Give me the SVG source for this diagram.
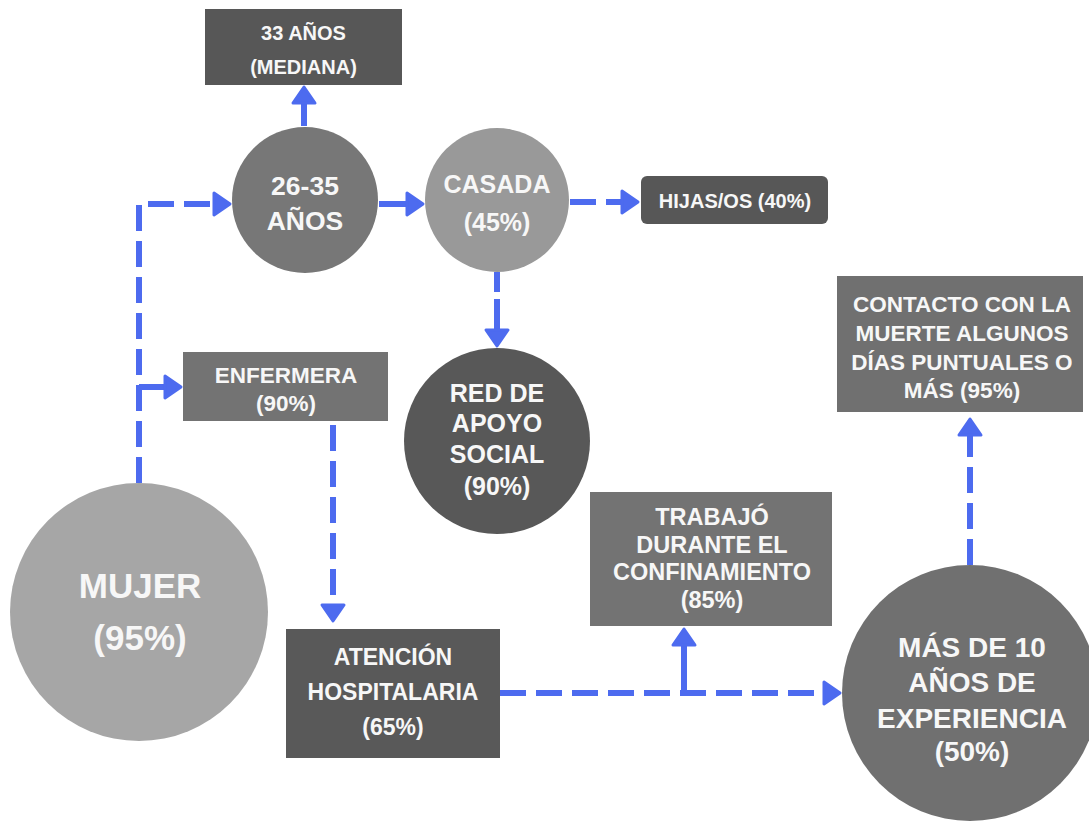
<svg xmlns="http://www.w3.org/2000/svg" width="1089" height="821" viewBox="0 0 1089 821">
<defs>
<style>
.t{font-family:"Liberation Sans",Arial,sans-serif;font-weight:bold;fill:#f7f7f7;text-anchor:middle}
.c{stroke:#4d6bef;stroke-width:6;fill:none}
.d{stroke-dasharray:26 10}
</style>
<marker id="ah" markerUnits="userSpaceOnUse" markerWidth="24" markerHeight="28" viewBox="-3 -3 24 28" refX="2" refY="11" orient="auto">
<path d="M0,0 L16,11 L0,22 z" fill="#4d6bef" stroke="#4d6bef" stroke-width="3" stroke-linejoin="round"/>
</marker>
</defs>
<rect width="1089" height="821" fill="#ffffff"/>
<g id="connectors">
<path class="c d" d="M139,483 V204 H216" marker-end="url(#ah)"/>
<path class="c" d="M139,387 H167" marker-end="url(#ah)"/>
<path class="c d" d="M304,126 V101" stroke-dasharray="16 6" marker-end="url(#ah)"/>
<path class="c" d="M379,204 H409" marker-end="url(#ah)"/>
<path class="c d" d="M570,202 H624" stroke-dasharray="18 9" marker-end="url(#ah)"/>
<path class="c" d="M497,272 V332" stroke-dasharray="20 7 60 0" marker-end="url(#ah)"/>
<path class="c d" d="M333,425 V607" marker-end="url(#ah)"/>
<path class="c d" d="M500,693 H826" stroke-dasharray="24 10" marker-end="url(#ah)"/>
<path class="c" d="M684,693 V643" marker-end="url(#ah)"/>
<path class="c d" d="M970,565 V433" marker-end="url(#ah)"/>
</g>
<g id="n-33anos">
<rect x="205" y="9" width="197" height="76" fill="#575757"/>
<text class="t" x="303.5" y="40" font-size="20">33 AÑOS</text>
<text class="t" x="303.5" y="74" font-size="20">(MEDIANA)</text>
</g>
<g id="n-2635">
<circle cx="305" cy="200" r="73" fill="#777777"/>
<text class="t" x="305" y="195" font-size="26.5">26-35</text>
<text class="t" x="305" y="230" font-size="26.5">AÑOS</text>
</g>
<g id="n-casada">
<circle cx="497" cy="200" r="72" fill="#999999"/>
<text class="t" x="497" y="193" font-size="25">CASADA</text>
<text class="t" x="497" y="231" font-size="25">(45%)</text>
</g>
<g id="n-hijas">
<rect x="641" y="176" width="187" height="48" rx="6" fill="#575757"/>
<text class="t" x="735" y="208" font-size="20">HIJAS/OS (40%)</text>
</g>
<g id="n-red">
<circle cx="497" cy="441" r="93" fill="#585858"/>
<text class="t" x="497" y="402" font-size="25">RED DE</text>
<text class="t" x="497" y="432" font-size="25">APOYO</text>
<text class="t" x="497" y="463" font-size="25">SOCIAL</text>
<text class="t" x="497" y="495" font-size="25">(90%)</text>
</g>
<g id="n-contacto">
<rect x="837" y="276" width="246" height="136" fill="#707070"/>
<text class="t" x="962" y="312" font-size="22.5">CONTACTO CON LA</text>
<text class="t" x="962" y="341" font-size="22.5">MUERTE ALGUNOS</text>
<text class="t" x="962" y="370" font-size="22.5">DÍAS PUNTUALES O</text>
<text class="t" x="962" y="398" font-size="22.5">MÁS (95%)</text>
</g>
<g id="n-mujer">
<circle cx="139" cy="612" r="129" fill="#a6a6a6"/>
<text class="t" x="140" y="598" font-size="35">MUJER</text>
<text class="t" x="140" y="650" font-size="35">(95%)</text>
</g>
<g id="n-enfermera">
<rect x="183" y="352" width="205" height="69" fill="#737373"/>
<text class="t" x="286" y="383" font-size="22.5">ENFERMERA</text>
<text class="t" x="286" y="411" font-size="22.5">(90%)</text>
</g>
<g id="n-atencion">
<rect x="286" y="629" width="214" height="129" fill="#595959"/>
<text class="t" x="393" y="665" font-size="23">ATENCIÓN</text>
<text class="t" x="393" y="700" font-size="23">HOSPITALARIA</text>
<text class="t" x="393" y="735" font-size="23">(65%)</text>
</g>
<g id="n-trabajo">
<rect x="590" y="492" width="242" height="134" fill="#737373"/>
<text class="t" x="712" y="525" font-size="23.5">TRABAJÓ</text>
<text class="t" x="712" y="553" font-size="23.5">DURANTE EL</text>
<text class="t" x="712" y="580" font-size="23.5">CONFINAMIENTO</text>
<text class="t" x="712" y="608" font-size="23.5">(85%)</text>
</g>
<g id="n-mas10">
<circle cx="970" cy="693" r="128" fill="#707070"/>
<text class="t" x="972" y="657" font-size="28">MÁS DE 10</text>
<text class="t" x="972" y="692" font-size="28">AÑOS DE</text>
<text class="t" x="972" y="728" font-size="28">EXPERIENCIA</text>
<text class="t" x="972" y="761" font-size="28">(50%)</text>
</g>
</svg>
